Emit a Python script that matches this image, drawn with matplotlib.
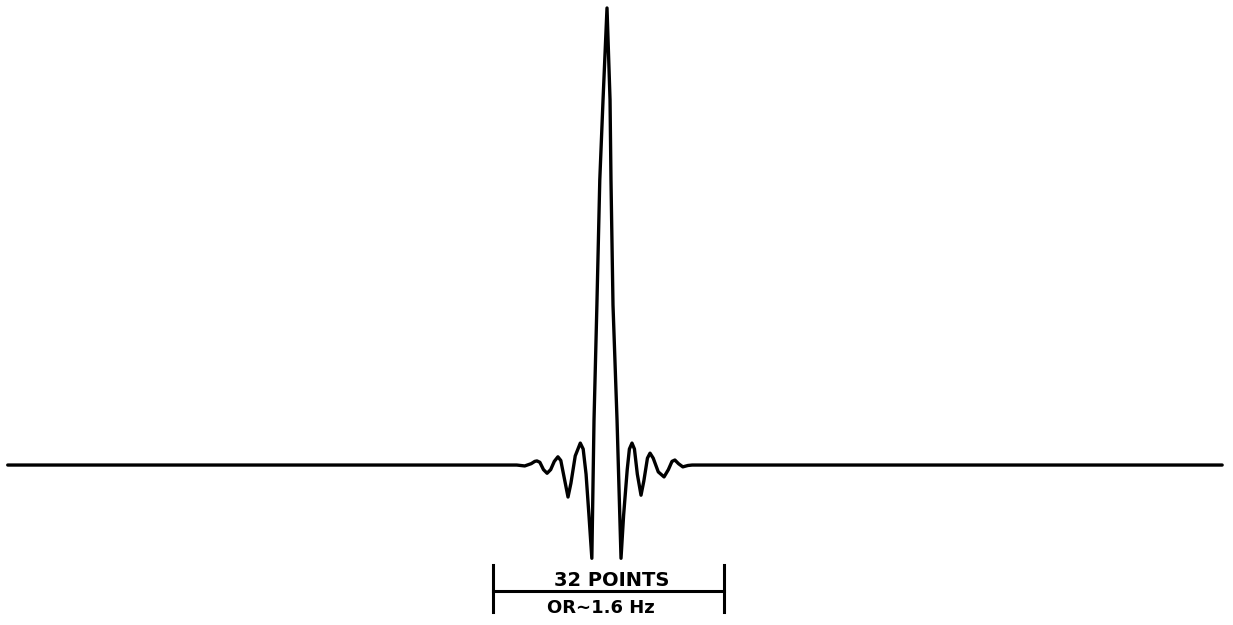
import numpy as np
import matplotlib
matplotlib.use('Agg')
import matplotlib.pyplot as plt

# sample offset from the centre (points) and relative amplitude (peak = 1)
offset = [-83.0, -12.5, -11.4, -10.5, -10.0, -9.7, -9.3, -8.8, -8.3, -7.8,
          -7.3, -6.8, -6.4, -5.9, -5.4, -5.0, -4.4, -3.7, -3.3, -2.9,
          -2.5, -2.1, -1.8, -1.4, -1.0, -0.55, 0.0,
          0.42, 0.55, 0.83, 1.39, 1.94, 2.3, 2.8, 3.1, 3.46, 3.8,
          4.2, 4.71, 5.1, 5.6, 5.96, 6.4, 7.1, 7.9, 8.5, 9.0,
          9.4, 9.9, 10.5, 11.2, 11.8, 85.2]
amplitude = [0.0, 0.0, -0.002, 0.003, 0.008, 0.009, 0.006, -0.010, -0.018, -0.010,
             0.008, 0.018, 0.010, -0.030, -0.070, -0.040, 0.020, 0.048, 0.035, -0.020,
             -0.110, -0.204, 0.098, 0.350, 0.624, 0.799, 1.0,
             0.799, 0.624, 0.350, 0.098, -0.204, -0.110, -0.010, 0.035, 0.048, 0.035,
             -0.020, -0.066, -0.035, 0.015, 0.026, 0.015, -0.015, -0.026, -0.010, 0.008,
             0.011, 0.003, -0.004, -0.001, 0.0, 0.0]

bracket_start = -15.8
bracket_points = 32
label_top = "32 POINTS"
label_bottom = "OR\u223c1.6 Hz"

fig = plt.figure(figsize=(12.33, 6.25), dpi=100)
ax = fig.add_axes([0, 0, 1, 1])
ax.plot(offset, amplitude, color="black", lw=2.4,
        solid_joinstyle="round", solid_capstyle="round")

# bracket showing the 32-point width
x0 = bracket_start
x1 = bracket_start + bracket_points
ax.plot([x0, x1], [-0.276, -0.276], color="black", lw=2.2)
ax.plot([x0, x0], [-0.219, -0.322], color="black", lw=2.2)
ax.plot([x1, x1], [-0.219, -0.322], color="black", lw=2.2)
ax.text(0.6, -0.252, label_top, ha="center", va="center",
        fontsize=14, fontweight="bold")
ax.text(-0.8, -0.313, label_bottom, ha="center", va="center",
        fontsize=13, fontweight="bold")

ax.set_xlim(-84.07, 86.7)
ax.set_ylim(-0.350, 1.0175)
ax.axis("off")

fig.savefig("out.png", dpi=100)
